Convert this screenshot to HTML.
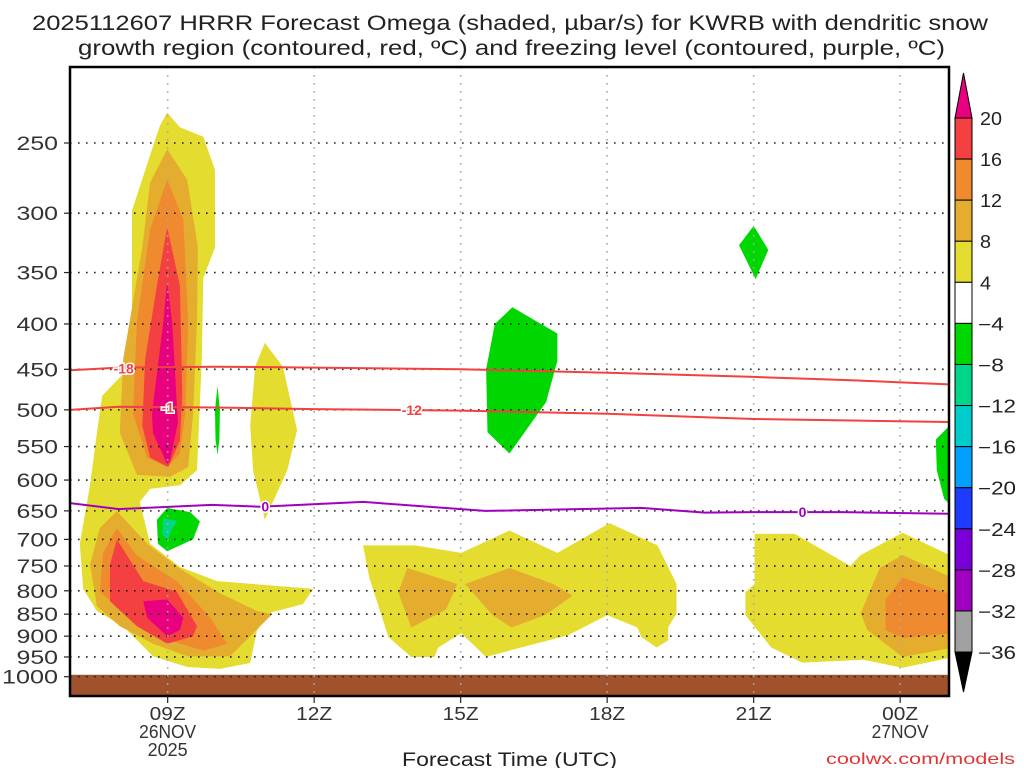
<!DOCTYPE html>
<html><head><meta charset="utf-8"><style>
html,body{margin:0;padding:0;background:#fff;width:1024px;height:768px;overflow:hidden}
svg{display:block}
text{font-family:"Liberation Sans","DejaVu Sans",sans-serif}
</style></head><body>
<svg id="chart" width="1024" height="768" viewBox="0 0 1024 768" xmlns="http://www.w3.org/2000/svg">
<text x="32" y="30" font-size="21" textLength="956" lengthAdjust="spacingAndGlyphs" fill="#222">2025112607 HRRR Forecast Omega (shaded, µbar/s) for KWRB with dendritic snow</text>
<text x="78" y="55" font-size="21" textLength="867" lengthAdjust="spacingAndGlyphs" fill="#222">growth region (contoured, red, ºC) and freezing level (contoured, purple, ºC)</text>
<defs><clipPath id="plotclip"><rect x="70" y="67" width="879" height="629"/></clipPath></defs>
<g id="plot" clip-path="url(#plotclip)"></g>
<g id="axes"></g>
<g id="cbar"></g>
<text x="402" y="766" font-size="19" textLength="215" lengthAdjust="spacingAndGlyphs" fill="#222">Forecast Time (UTC)</text>
<text x="826" y="764" font-size="16" textLength="189" lengthAdjust="spacingAndGlyphs" fill="#e03535">coolwx.com/models</text>
</svg>
<script>
// ---- data ----
const pressureTicks = [250,300,350,400,450,500,550,600,650,700,750,800,850,900,950,1000];
const timeTicks = [9,12,15,18,21,24];
const timeLabels = ["09Z","12Z","15Z","18Z","21Z","00Z"];
const cbarLevels = [20,16,12,8,4,-4,-8,-12,-16,-20,-24,-28,-32,-36];
const cbarColors = ["#f44040","#ef8a2e","#e5ad2e","#e5dc30","#ffffff","#00d700","#00d68a","#00cccc","#00a0ff","#1e3cff","#7a00d9","#a000c0","#a0a0a0"];
// shaded regions: [hour since 00Z 26NOV, pressure hPa]
const yellowMain = [[8.99,231],[9.25,240],[9.73,246],[9.97,268],[9.97,328],[9.73,355],[9.70,438],[9.60,585],[9.25,608],[8.64,614],[8.43,635],[8.64,708],[9.25,752],[10.01,780],[11.98,796],[11.77,828],[11.10,847],[10.83,886],[10.69,965],[10.07,980],[9.40,975],[8.70,948],[8.09,877],[7.55,843],[7.27,796],[7.20,708],[7.41,608],[7.55,531],[7.66,482],[8.23,447],[8.27,383],[8.27,298],[8.64,258],[8.84,239]];
const goldUpper = [[8.99,254],[9.40,275],[9.62,328],[9.60,398],[9.52,505],[9.42,580],[9.05,595],[8.37,592],[8.02,531],[8.09,438],[8.48,328],[8.64,277]];
const goldLower = [[7.96,650],[8.58,708],[9.25,755],[10.07,805],[10.83,843],[11.14,850],[10.69,900],[10.28,948],[9.40,948],[8.70,918],[8.02,877],[7.55,833],[7.41,747],[7.61,680]];
const orangeUpper = [[8.99,275],[9.32,305],[9.42,398],[9.36,505],[9.25,560],[8.99,580],[8.58,566],[8.29,505],[8.37,398],[8.64,313]];
const orangeLower = [[7.96,680],[8.37,730],[9.19,780],[9.87,858],[10.22,918],[9.73,935],[9.05,910],[8.23,858],[7.61,802],[7.68,724]];
const redUpper = [[8.99,311],[9.25,362],[9.30,482],[9.25,542],[9.01,580],[8.64,566],[8.48,521],[8.54,438],[8.78,362]];
const redLower = [[7.96,700],[8.50,780],[9.19,802],[9.60,877],[9.52,900],[8.99,918],[8.37,877],[7.82,822],[7.82,747]];
const magentaUpper = [[8.99,358],[9.09,398],[9.21,517],[9.05,570],[8.99,576],[8.70,531],[8.68,505],[8.91,398]];
const magentaLower = [[8.50,822],[8.99,818],[9.32,858],[9.25,886],[8.99,900],[8.58,858]];
const yellow11Z = [[10.99,420],[11.36,447],[11.65,527],[11.45,585],[10.99,665],[10.75,585],[10.69,521],[10.79,447]];
const yellowMid = [[13.0,711],[14.07,711],[15.01,725],[16.0,684],[16.98,725],[18.05,671],[19.03,711],[19.42,786],[19.42,848],[19.25,880],[19.25,910],[19.01,927],[18.70,902],[18.62,880],[18.0,852],[17.2,898],[16.04,933],[15.52,950],[15.01,893],[14.54,927],[14.46,950],[13.99,950],[13.52,902],[13.13,773]];
const goldMidA = [[13.91,754],[14.93,786],[14.70,840],[13.99,880],[13.72,803]];
const goldMidB = [[15.09,786],[16.0,754],[16.9,786],[17.29,810],[16.73,852],[16.04,880],[15.65,852]];
const yellowLate = [[21.02,690],[21.84,690],[22.98,750],[23.19,729],[24.05,688],[25.1,733],[25.1,950],[24.05,977],[23.25,957],[22.0,964],[21.36,927],[20.83,852],[20.83,803],[21.02,786]];
const goldLate = [[24.05,729],[25.1,775],[25.1,927],[24.05,950],[23.33,886],[23.19,848],[23.58,754]];
const orangeLate = [[24.05,773],[25.1,810],[25.1,893],[24.05,904],[23.7,886],[23.7,818]];
const green09Z = [[8.78,665],[8.99,645],[9.46,652],[9.66,668],[9.52,700],[8.99,722],[8.80,708]];
const teal09Z = [[8.91,663],[9.19,667],[9.05,688],[8.99,705],[8.89,688]];
const greenSliver = [[10.02,470],[10.07,500],[10.06,540],[10.02,562],[9.98,540],[9.97,500]];
const green16Z = [[16.06,383],[16.98,410],[16.98,440],[16.75,490],[16.0,560],[15.55,530],[15.52,450],[15.7,400]];
const green21Z = [[21.0,310],[21.3,330],[21.04,356],[20.7,326]];
const greenEdge = [[24.73,540],[25.1,515],[25.1,645],[24.9,630],[24.75,585]];
// contour lines
const lineHours = [7,8,10,12,15,18,21,23,25];
const minus18 = [451,448,447,448,450,454,459,463,468];
const minus12 = [500,496,497,499,501,505,512,514,516];
const fzHours = [7,8,9.9,10.9,13,15.5,18.7,20,21,22.8,25];
const freezing = [637,647,640,643,635,650,645,653,652,652,655];
const groundTop = 995;

// ---- axes ----
const X0=70,X1=949,Y0=67,Y1=696,H0=7,H1=25;
const x = h => X0 + (h-H0)*(X1-X0)/(H1-H0);
const y = p => 143 + 385*Math.log(p/250);
const NS="http://www.w3.org/2000/svg";
function mk(tag,attrs,parent){const e=document.createElementNS(NS,tag);for(const k in attrs)e.setAttribute(k,attrs[k]);parent.appendChild(e);return e;}
const plot=document.getElementById('plot'), axes=document.getElementById('axes'), cbar=document.getElementById('cbar');
function poly(pts,color,name){
  const e=mk('polygon',{points:pts.map(d=>x(d[0]).toFixed(1)+','+y(d[1]).toFixed(1)).join(' '),fill:color},plot);
  
  
}
poly(yellowMain,"#e5dc30","omega-4-8-main");
poly(goldUpper,"#e5ad2e","omega-8-12-upper");
poly(goldLower,"#e5ad2e","omega-8-12-lower");
poly(orangeUpper,"#ef8a2e","omega-12-16-upper");
poly(orangeLower,"#ef8a2e","omega-12-16-lower");
poly(redUpper,"#f44040","omega-16-20-upper");
poly(redLower,"#f44040","omega-16-20-lower");
poly(magentaUpper,"#e8007e","omega-gt20-upper");
poly(magentaLower,"#e8007e","omega-gt20-lower");
poly(yellow11Z,"#e5dc30","omega-4-8-11z");
poly(yellowMid,"#e5dc30","omega-4-8-mid");
poly(goldMidA,"#e5ad2e","omega-8-12-mid-a");
poly(goldMidB,"#e5ad2e","omega-8-12-mid-b");
poly(yellowLate,"#e5dc30","omega-4-8-late");
poly(goldLate,"#e5ad2e","omega-8-12-late");
poly(orangeLate,"#ef8a2e","omega-12-16-late");
poly(green09Z,"#00d700","omega-neg4-8-09z");
poly(teal09Z,"#00d68a","omega-neg8-12-09z");
poly(greenSliver,"#00d700","omega-neg4-8-sliver");
poly(green16Z,"#00d700","omega-neg4-8-16z");
poly(green21Z,"#00d700","omega-neg4-8-21z");
poly(greenEdge,"#00d700","omega-neg4-8-edge");
// ground
const gr=mk('rect',{x:X0,y:y(groundTop),width:X1-X0,height:Y1-y(groundTop),fill:"#a0522d"},plot);


// grid
pressureTicks.forEach(p=>{
  const g=mk('line',{x1:X0,x2:X1,y1:y(p),y2:y(p),stroke:"#222","stroke-width":1.6,"stroke-dasharray":"1.6 6.4"},plot);
  
  
});
timeTicks.forEach(h=>{
  const g=mk('line',{x1:x(h),x2:x(h),y1:Y0,y2:Y1,stroke:"#aaa","stroke-width":1.6,"stroke-dasharray":"1.6 6.4"},plot);
  
  
});
// contour lines
function cline(hs,ps,color,name){
  const e=mk('polyline',{points:hs.map((h,i)=>x(h).toFixed(1)+','+y(ps[i]).toFixed(1)).join(' '),fill:"none",stroke:color,"stroke-width":2},plot);
  
  
}
cline(lineHours,minus18,"#f44040","contour-minus18");
cline(lineHours,minus12,"#f44040","contour-minus12");
cline(fzHours,freezing,"#a000c0","freezing-level");
function clabel(t,h,p,color,name){
  const e=mk('text',{x:x(h),y:y(p)+5,"font-size":14,"font-weight":"bold","text-anchor":"middle",fill:color,stroke:"#fff","stroke-width":3,"paint-order":"stroke"},plot);
  e.textContent=t;
  
  
}
clabel("-18",8.1,449,"#f44040","label-minus18");
clabel("-1",9.0,497,"#f44040","label-minus12-a");
clabel("-12",14.0,500,"#f44040","label-minus12-b");
clabel("0",11.0,643,"#a000c0","label-freezing-a");
clabel("0",22.0,652,"#a000c0","label-freezing-b");
// frame
const fr=mk('rect',{x:X0,y:Y0,width:X1-X0,height:Y1-Y0,fill:"none",stroke:"#000","stroke-width":2.5},axes);


pressureTicks.forEach(p=>{
  mk('line',{x1:X0-6,x2:X0,y1:y(p),y2:y(p),stroke:"#222","stroke-width":1.2},axes);
  const s=String(p);
  const t=mk('text',{x:60-s.length*14.5,y:y(p)+7,"font-size":19,textLength:s.length*14.5-2,lengthAdjust:"spacingAndGlyphs",fill:"#333"},axes);
  t.textContent=s;
  
  
});
timeTicks.forEach((h,i)=>{
  mk('line',{x1:x(h),x2:x(h),y1:Y1,y2:Y1+7,stroke:"#222","stroke-width":1.2},axes);
  const t=mk('text',{x:x(h)-18,y:720,"font-size":18,textLength:36,lengthAdjust:"spacingAndGlyphs",fill:"#333"},axes);
  t.textContent=timeLabels[i];
  
  
});
[["26NOV",9,738,57],["2025",9,756,40],["27NOV",24,738,57]].forEach(d=>{
  const t=mk('text',{x:x(d[1])-d[3]/2,y:d[2],"font-size":18,textLength:d[3],lengthAdjust:"spacingAndGlyphs",fill:"#333"},axes);
  t.textContent=d[0];
  
  
});
// colorbar
const CX=955,CW=17,CT=118,CS=41.08;
const tri1=mk('polygon',{points:`${CX},${CT} ${CX+CW},${CT} ${CX+CW/2},${CT-45}`,fill:"#e8007e",stroke:"#000","stroke-width":1},cbar);


cbarColors.forEach((c,i)=>{
  const r=mk('rect',{x:CX,y:CT+i*CS,width:CW,height:CS,fill:c,stroke:"#000","stroke-width":1},cbar);
  
  
});
const CB=CT+cbarColors.length*CS;
const tri2=mk('polygon',{points:`${CX},${CB} ${CX+CW},${CB} ${CX+CW/2},${CB+40}`,fill:"#000",stroke:"#000","stroke-width":1},cbar);


cbarLevels.forEach((v,i)=>{
  const s=v<0?"\u2212"+Math.abs(v):String(v);
  const t=mk('text',{x:v<0?978:980,y:CT+i*CS+7,"font-size":18,textLength:v<0?(Math.abs(v)>=10?38:26):(v>=10?22:11),lengthAdjust:"spacingAndGlyphs",fill:"#222"},cbar);
  t.textContent=s;
  
  
});
</script>
</body></html>
